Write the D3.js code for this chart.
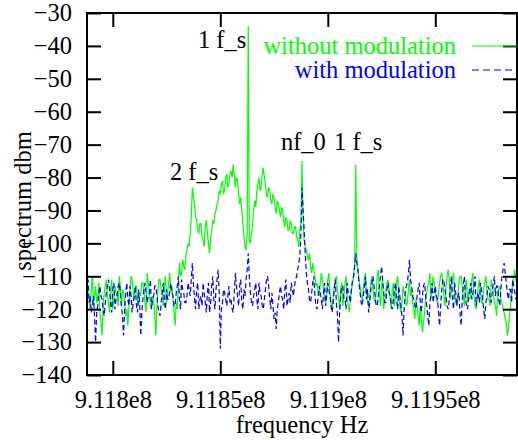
<!DOCTYPE html>
<html>
<head>
<meta charset="utf-8">
<script src="https://cdn.jsdelivr.net/npm/d3@7"></script>
<style>
    body { margin: 0; background: #ffffff; }
</style>
</head>
<body>
<div id="chart"></div>
<script>
// sweep: 401 points, 500 Hz apart
var freqStart = 911788000;
var freqStep = 500;

// spectrum without modulation (dBm), one value per sweep point
var withoutMod = [
    -112,-115,-117,-120,-114,-110,-119,-116,-113,-118,-116,-112,-121,-124,-128,-119,-115,-113,-111,-116,
    -118,-121,-114,-111,-120,-117,-113,-115,-116,-119,-110,-113,-119,-114,-115,-118,-122,-120,-125,-119,
    -114,-110,-111,-115,-117,-113,-113,-117,-119,-115,-116,-112,-112,-114,-118,-121,-109,-112,-115,-119,
    -120,-116,-117,-122,-128,-120,-114,-111,-111,-114,-116,-119,-113,-110,-118,-115,-112,-109,-115,-113,
    -117,-121,-125,-118,-120,-112,-106,-110,-109,-105,-107,-108,-104,-102,-100,-101,-97,-92,-83,-86,
    -88,-92,-93,-96,-97,-94,-94,-98,-99,-101,-95,-93,-97,-100,-103,-99,-96,-93,-94,-91,
    -90,-88,-87,-84,-85,-82,-81,-85,-84,-80,-79,-83,-82,-79,-78,-80,-76,-79,-83,-80,
    -81,-85,-88,-86,-90,-94,-98,-101,-102,-97,-34,-99,-100,-97,-95,-90,-87,-89,-84,-82,
    -80,-84,-83,-79,-77,-80,-82,-85,-86,-83,-84,-87,-88,-85,-86,-89,-91,-87,-88,-90,
    -92,-89,-90,-93,-95,-92,-93,-96,-96,-93,-94,-97,-97,-95,-95,-98,-99,-101,-96,-94,
    -75,-93,-99,-101,-102,-104,-105,-103,-107,-109,-106,-108,-110,-113,-112,-115,-116,-112,-109,-111,
    -114,-117,-118,-115,-111,-109,-115,-118,-120,-116,-113,-111,-110,-114,-117,-120,-114,-112,-119,-116,
    -112,-110,-116,-119,-121,-117,-114,-112,-110,-106,-76,-105,-108,-111,-113,-116,-117,-114,-111,-109,
    -115,-118,-119,-116,-112,-110,-114,-117,-118,-115,-110,-108,-116,-119,-113,-111,-120,-117,-115,-112,
    -111,-114,-117,-120,-114,-112,-119,-116,-112,-110,-116,-119,-121,-118,-113,-115,-115,-119,-118,-114,
    -111,-116,-114,-118,-120,-123,-117,-119,-122,-125,-119,-123,-127,-124,-121,-117,-115,-113,-112,-109,
    -117,-114,-110,-112,-114,-117,-118,-115,-112,-110,-109,-112,-116,-119,-113,-110,-108,-111,-117,-114,
    -111,-109,-115,-118,-119,-116,-112,-110,-110,-113,-116,-119,-113,-111,-118,-115,-114,-117,-111,-109,
    -116,-119,-120,-117,-113,-111,-115,-118,-118,-114,-112,-110,-114,-117,-117,-119,-111,-113,-115,-118,
    -119,-122,-116,-114,-113,-117,-118,-120,-121,-123,-124,-128,-126,-122,-119,-115,-112,-110,-108,-111,
    -113
];

// spectrum with modulation (dBm)
var withMod = [
    -114,-111,-118,-116,-121,-119,-116,-122,-130,-121,-119,-115,-113,-116,-117,-120,-122,-118,-115,-113,
    -111,-114,-118,-121,-114,-112,-120,-117,-116,-113,-112,-115,-119,-122,-128,-120,-115,-112,-117,-119,
    -113,-116,-121,-118,-116,-113,-119,-121,-114,-118,-128,-121,-117,-114,-112,-115,-118,-116,-115,-111,
    -120,-117,-116,-113,-113,-116,-119,-121,-122,-118,-115,-112,-118,-120,-114,-117,-117,-114,-112,-115,
    -116,-119,-119,-115,-113,-110,-117,-120,-111,-114,-115,-118,-118,-116,-112,-114,-116,-111,-106,-112,
    -117,-120,-114,-112,-120,-117,-116,-119,-112,-115,-118,-121,-115,-112,-121,-118,-113,-110,-117,-120,
    -114,-111,-108,-115,-132,-120,-118,-114,-115,-117,-119,-116,-113,-118,-117,-120,-121,-115,-109,-113,
    -116,-119,-113,-111,-118,-120,-114,-116,-111,-108,-103,-110,-115,-118,-119,-116,-114,-112,-117,-120,
    -112,-115,-116,-119,-120,-117,-114,-111,-110,-113,-117,-120,-115,-119,-123,-121,-126,-120,-118,-115,
    -113,-116,-117,-120,-114,-111,-119,-117,-115,-118,-112,-114,-116,-113,-111,-110,-108,-106,-104,-97,
    -83,-90,-96,-103,-109,-112,-114,-117,-118,-115,-112,-110,-116,-119,-120,-116,-113,-115,-117,-120,
    -115,-112,-119,-116,-112,-114,-116,-119,-121,-118,-114,-111,-118,-122,-130,-121,-116,-113,-113,-117,
    -117,-120,-112,-115,-116,-118,-114,-111,-110,-107,-103,-106,-108,-112,-115,-118,-119,-116,-113,-110,
    -117,-114,-121,-118,-114,-112,-110,-113,-116,-119,-119,-116,-113,-110,-107,-111,-115,-118,-118,-114,
    -112,-115,-116,-119,-120,-117,-114,-112,-117,-120,-113,-116,-119,-122,-128,-120,-115,-113,-112,-109,
    -105,-111,-113,-116,-117,-119,-120,-116,-114,-112,-118,-121,-116,-113,-112,-116,-119,-122,-125,-118,
    -115,-112,-118,-115,-113,-116,-117,-121,-125,-119,-114,-111,-111,-114,-116,-119,-120,-117,-113,-110,
    -117,-120,-112,-115,-119,-116,-115,-121,-125,-118,-113,-110,-116,-119,-120,-117,-114,-112,-117,-115,
    -113,-110,-119,-116,-115,-118,-112,-114,-117,-120,-123,-118,-116,-113,-114,-117,-118,-115,-112,-110,
    -116,-113,-113,-117,-119,-114,-110,-108,-106,-109,-112,-115,-117,-114,-114,-118,-111,-113,-115,-117,
    -116
];

var yTicks = [-30, -40, -50, -60, -70, -80, -90, -100, -110, -120, -130, -140];
var xTicks = [911800000, 911850000, 911900000, 911950000];
var xTickLabels = ["9.118e8", "9.1185e8", "9.119e8", "9.1195e8"];

// peak annotations: label, frequency where the text starts, level of the baseline
var noteLabels = ["1 f_s", "2 f_s", "nf_0", "1 f_s"];
var noteFreqs = [911839600, 911826600, 911878200, 911902900];
var noteLevels = [-40.6, -80.8, -71.6, -71.6];

var seriesNames = ["without modulation", "with modulation"];
var seriesColors = ["#00ff00", "#0000ff"];

var width = 518, height = 440;
var margin = {top: 13, right: 1, bottom: 65, left: 87};
var serif = "'Liberation Serif', 'Times New Roman', Times, 'DejaVu Serif', serif";

var svg = d3.select("#chart").append("svg")
    .attr("width", width)
    .attr("height", height)
    .style("font-family", serif);

var x = d3.scaleLinear()
    .domain([911788000, 911988000])
    .range([margin.left, width - margin.right]);

var y = d3.scaleLinear()
    .domain([-140, -30])
    .range([height - margin.bottom, margin.top]);

function toPoints(values) {
    return values.map(function (v, i) {
        return {f: freqStart + i * freqStep, v: v};
    });
}

var line = d3.line()
    .x(function (d) { return x(d.f); })
    .y(function (d) { return y(d.v); });

svg.append("clipPath").attr("id", "plotclip")
    .append("rect")
    .attr("x", margin.left)
    .attr("y", margin.top)
    .attr("width", width - margin.right - margin.left)
    .attr("height", height - margin.bottom - margin.top);

var plot = svg.append("g").attr("clip-path", "url(#plotclip)");

plot.append("path")
    .datum(toPoints(withoutMod))
    .attr("fill", "none")
    .attr("stroke", seriesColors[0])
    .attr("stroke-width", 1.2)
    .attr("d", line);

plot.append("path")
    .datum(toPoints(withMod))
    .attr("fill", "none")
    .attr("stroke", seriesColors[1])
    .attr("stroke-width", 1.2)
    .attr("stroke-dasharray", "5,3")
    .attr("d", line);

// axes, gnuplot style: ticks pointing inwards on all four sides
var tickLen = 14;
var axisFont = 24.5;

svg.append("g")
    .attr("transform", "translate(" + margin.left + ",0)")
    .call(d3.axisLeft(y).tickValues(yTicks).tickSize(-tickLen).tickPadding(15));

svg.append("g")
    .attr("transform", "translate(" + (width - margin.right) + ",0)")
    .call(d3.axisRight(y).tickValues(yTicks).tickSize(-tickLen).tickFormat(""));

svg.append("g")
    .attr("transform", "translate(0," + (height - margin.bottom) + ")")
    .call(d3.axisBottom(x).tickValues(xTicks).tickSize(-tickLen).tickPadding(16)
        .tickFormat(function (d, i) { return xTickLabels[i]; }));

svg.append("g")
    .attr("transform", "translate(0," + margin.top + ")")
    .call(d3.axisTop(x).tickValues(xTicks).tickSize(-tickLen).tickFormat(""));

svg.selectAll(".domain").remove();
svg.selectAll("g").attr("font-family", null).attr("font-size", null);
svg.selectAll(".tick line").attr("stroke", "#000").attr("stroke-width", 2);
svg.selectAll(".tick text")
    .attr("fill", "#000")
    .style("font-size", axisFont + "px");

svg.append("rect")
    .attr("x", margin.left)
    .attr("y", margin.top)
    .attr("width", width - margin.right - margin.left)
    .attr("height", height - margin.bottom - margin.top)
    .attr("fill", "none")
    .attr("stroke", "#000")
    .attr("stroke-width", 2);

// axis titles
svg.append("text")
    .attr("x", (margin.left + width - margin.right) / 2)
    .attr("y", 433)
    .attr("text-anchor", "middle")
    .style("font-size", axisFont + "px")
    .text("frequency Hz");

svg.append("text")
    .attr("transform", "translate(31,201) rotate(-90)")
    .attr("text-anchor", "middle")
    .style("font-size", axisFont + "px")
    .text("spectrum dbm");

// peak labels
noteLabels.forEach(function (lab, i) {
    svg.append("text")
        .attr("x", x(noteFreqs[i]))
        .attr("y", y(noteLevels[i]))
        .style("font-size", axisFont + "px")
        .text(lab);
});

// legend
var legendRight = 456;
seriesNames.forEach(function (name, i) {
    var ly = 46 + i * 24;
    svg.append("text")
        .attr("x", legendRight)
        .attr("y", ly + 8)
        .attr("text-anchor", "end")
        .attr("fill", seriesColors[i])
        .style("font-size", axisFont + "px")
        .text(name);
    svg.append("line")
        .attr("x1", 472)
        .attr("x2", width - margin.right)
        .attr("y1", ly)
        .attr("y2", ly)
        .attr("stroke", seriesColors[i])
        .attr("stroke-width", 1.2)
        .attr("stroke-dasharray", i === 1 ? "7,4" : null);
});
</script>
</body>
</html>
